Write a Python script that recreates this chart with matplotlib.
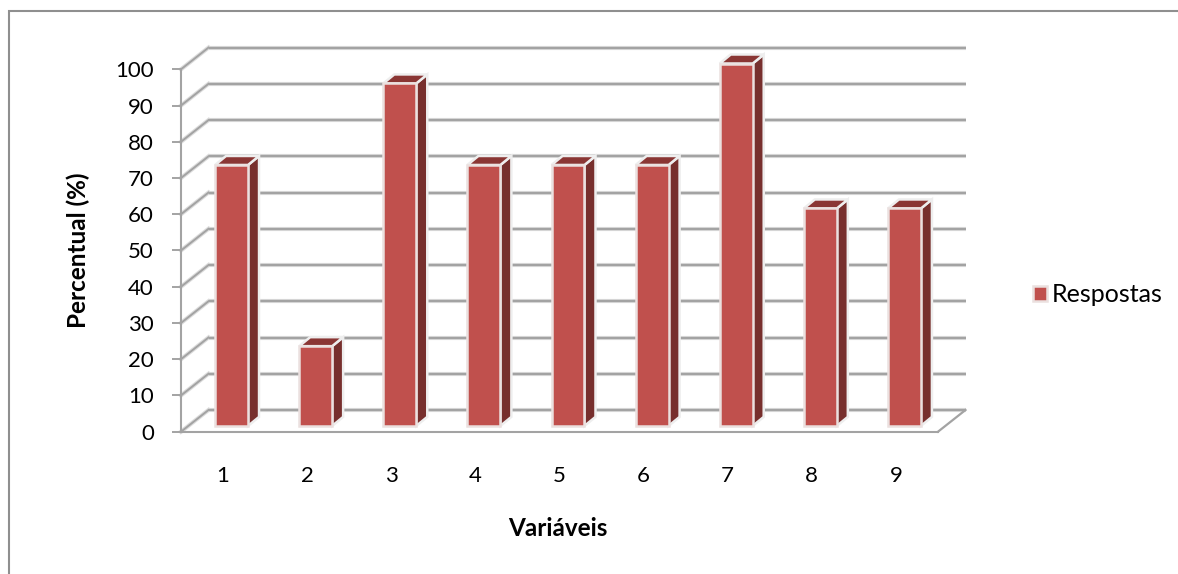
import matplotlib
matplotlib.use('Agg')
import numpy as np
import matplotlib.pyplot as plt
from matplotlib.lines import Line2D
from matplotlib.patches import Polygon
from matplotlib.transforms import Affine2D, IdentityTransform

variaveis = [1, 2, 3, 4, 5, 6, 7, 8, 9]
respostas = [72, 22, 94.5, 72, 72, 72, 100, 60, 60]
yticks = list(range(0, 101, 10))

W, H = 1178, 574
plt.rcParams['font.family'] = ['Lato', 'DejaVu Sans']

fig = plt.figure(figsize=(W/100, H/100), dpi=100)
# axes box is the front plane of the fake 3d chart (pixels from the reference)
left, right, top, bottom = 181, 938, 69.3, 431.7
ax = fig.add_axes([left/W, 1-bottom/H, (right-left)/W, (bottom-top)/H])
ax.set_xlim(0.5, 9.5)
ax.set_ylim(0, 100)
ax.patch.set_visible(False)

grid_col = '#a3a3a3'
shadow = '#dcdcdc'
back = ax.transData + Affine2D().translate(27.5, 21.7)
front = ax.transData + Affine2D().translate(8.5, 5.8)
rear = ax.transData + Affine2D().translate(19.5, 14.8)

# back wall lines and the diagonals on the left wall
for v in yticks:
    ax.plot([0.5, 9.5], [v, v], transform=back, color=shadow, lw=3.0, zorder=1, clip_on=False,
            solid_capstyle='butt')
    ax.plot([0.5, 9.5], [v, v], transform=back, color=grid_col, lw=1.6, zorder=1.1, clip_on=False,
            solid_capstyle='butt')
    a = ax.transData.transform((0.5, v))
    b = back.transform((0.5, v))
    ax.plot([a[0], b[0]], [a[1], b[1]], transform=IdentityTransform(), color=shadow, lw=3.0,
            zorder=1, clip_on=False)
    ax.plot([a[0], b[0]], [a[1], b[1]], transform=IdentityTransform(), color=grid_col, lw=1.4,
            zorder=1.1, clip_on=False)

# right edge of the floor
a = ax.transData.transform((9.5, 0))
b = back.transform((9.5, 0))
ax.plot([a[0], b[0]], [a[1], b[1]], transform=IdentityTransform(), color=grid_col, lw=1.6,
        zorder=1.1, clip_on=False)

# bars
width = 0.392
for x, v in zip(variaveis, respostas):
    x0, x1 = x - width/2, x + width/2
    fr = front.transform([(x1, 0), (x1, v)])
    rr = rear.transform([(x1, v), (x1, 0)])
    side = Polygon(np.vstack([fr, rr]), closed=True, transform=IdentityTransform(), facecolor='#772f2d',
                   edgecolor='#eeeeee', lw=1.8, zorder=2, clip_on=False)
    ax.add_patch(side)
    tf = front.transform([(x0, v), (x1, v)])
    tr = rear.transform([(x1, v), (x0, v)])
    topf = Polygon(np.vstack([tf, tr]), closed=True, transform=IdentityTransform(), facecolor='#8a3634',
                   edgecolor='#eeeeee', lw=1.8, zorder=2, clip_on=False)
    ax.add_patch(topf)
ax.bar(variaveis, respostas, width, transform=front, color='#c0504d', edgecolor='#ebe0df', linewidth=1.8,
       zorder=3, clip_on=False, label='Respostas')

for s in ['top', 'right']:
    ax.spines[s].set_visible(False)
for s in ['left', 'bottom']:
    ax.spines[s].set_color(grid_col)
    ax.spines[s].set_linewidth(1.5)
    ax.spines[s].set_zorder(1.5)

ax.set_yticks(yticks)
ax.set_xticks(variaveis)
ax.tick_params(axis='y', length=6.5, width=1.4, color=grid_col, labelsize=16, pad=13, labelcolor='black')
ax.tick_params(axis='x', length=0, labelsize=16, pad=25, labelcolor='black')

ax.set_xlabel('Variáveis', fontweight='bold', fontsize=17.5)
ax.xaxis.set_label_coords((558-left)/(right-left), (bottom-529)/(bottom-top), transform=ax.transAxes)
ax.xaxis.label.set_verticalalignment('center')
ax.set_ylabel('Percentual (%)', fontweight='bold', fontsize=17.5)
ax.yaxis.set_label_coords((78-left)/(right-left), (bottom-250)/(bottom-top), transform=ax.transAxes)
ax.yaxis.label.set_verticalalignment('center')

ax.legend(loc='center left', bbox_to_anchor=(1033/W, 1-295/H), bbox_transform=fig.transFigure, frameon=False,
          fontsize=18, handlelength=0.55, handleheight=0.55, handletextpad=0.2, borderpad=0, borderaxespad=0)

# chart frame, only top and left end up inside the image
fig.add_artist(Line2D([9/W, 9/W, 1], [0, 1-10.5/H, 1-10.5/H], transform=fig.transFigure, color='#8f8f8f',
                      lw=1.5, solid_joinstyle='miter'))

fig.savefig('out.png', dpi=100)
